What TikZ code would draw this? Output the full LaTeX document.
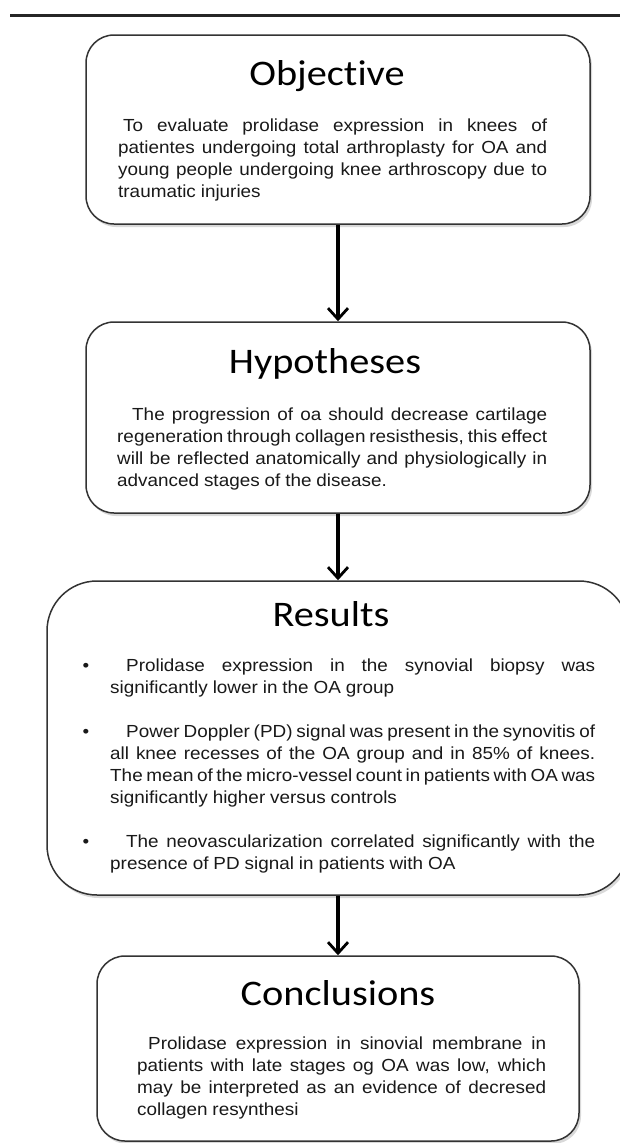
\documentclass[tikz,border=0pt]{standalone}
\usepackage{fontspec}
\setmainfont{Liberation Sans}[FakeStretch=1.08]
\newfontfamily\headfont{Carlito}[FakeStretch=1.12,Ligatures={NoCommon}]
\usetikzlibrary{arrows.meta,shadows}

\begin{document}
\begin{tikzpicture}[x=1pt,y=-1pt,
            box node/.style={draw=black!80,line width=1.5pt,fill=white,inner sep=0pt,
                drop shadow={shadow xshift=2pt,shadow yshift=-3pt,fill=black,opacity=0.15}},
            head node/.style={font={\headfont\fontsize{36}{40}\selectfont},inner sep=0pt,anchor=base},
            text node/.style={font={\fontsize{17.5}{22}\selectfont\spaceskip=.28em plus 1em minus .17em\relax},
                align=justify,inner sep=0pt,anchor=north west,text=black!90},
            link/.style={line width=3.4pt,-{Straight Barb[length=11pt,width=20pt,line width=2.8pt]}},
            ]
            \useasboundingbox (0,0) rectangle (620,1143);
            \clip (0,0) rectangle (620,1143);
            \fill[white] (0,0) rectangle (620,1143);
            \draw[line width=3pt,black!85] (10,15) -- (620,15);

            % boxes
            \node[box node,rounded corners=28pt,minimum width=504pt,minimum height=189pt] (obj) at (338,129.5) {};
            \node[box node,rounded corners=28pt,minimum width=504pt,minimum height=191pt] (hyp) at (338,417.5) {};
            \node[box node,rounded corners=50pt,minimum width=582pt,minimum height=314pt] (res) at (338,738) {};
            \node[box node,rounded corners=28pt,minimum width=482pt,minimum height=185pt] (con) at (338,1048.5) {};

            % headings
            \node[head node] (objh) at (327,85) {Objective};
            \node[head node] (hyph) at (325,373) {Hypotheses};
            \node[head node] (resh) at (331,626) {Results};
            \node[head node] (conh) at (338,1005) {Conclusions};

            % texts
            \node[text node,text width=429pt] (objt) at (118,115.6) {\strut\hspace*{5pt}To evaluate prolidase expression in knees of\linebreak
                patientes undergoing total arthroplasty for OA and\linebreak
                young people undergoing knee arthroscopy due to\linebreak
                traumatic injuries};
            \node[text node,text width=430pt] (hypt) at (117,404.6) {\strut\hspace*{15pt}The progression of oa should decrease cartilage\linebreak
                regeneration through collagen resisthesis, this effect\linebreak
                will be reflected anatomically and physiologically in\linebreak
                advanced stages of the disease.};
            \node[text node,text width=485pt] (rest) at (110,655.6) {\strut\llap{\textbullet\hspace{21pt}}\hspace*{16pt}Prolidase expression in the synovial biopsy was\linebreak
                significantly lower in the OA group\par\vspace{22pt}
                \noindent\llap{\textbullet\hspace{21pt}}\hspace*{16pt}Power Doppler (PD) signal was present in the synovitis of\linebreak
                all knee recesses of the OA group and in 85\% of knees.\linebreak
                The mean of the micro-vessel count in patients with OA was\linebreak
                significantly higher versus controls\par\vspace{22pt}
                \noindent\llap{\textbullet\hspace{21pt}}\hspace*{16pt}The neovascularization correlated significantly with the\linebreak
                presence of PD signal in patients with OA};
            \node[text node,text width=409pt] (cont) at (137,1033.6) {\strut\hspace*{11pt}Prolidase expression in sinovial membrane in\linebreak
                patients with late stages og OA was low, which\linebreak
                may be interpreted as an evidence of decresed\linebreak
                collagen resynthesi};

            % arrows
            \draw[link] (obj.south) -- (hyp.north);
            \draw[link] (hyp.south) -- (res.north);
            \draw[link] (res.south) -- (con.north);
        \end{tikzpicture}
\end{document}
